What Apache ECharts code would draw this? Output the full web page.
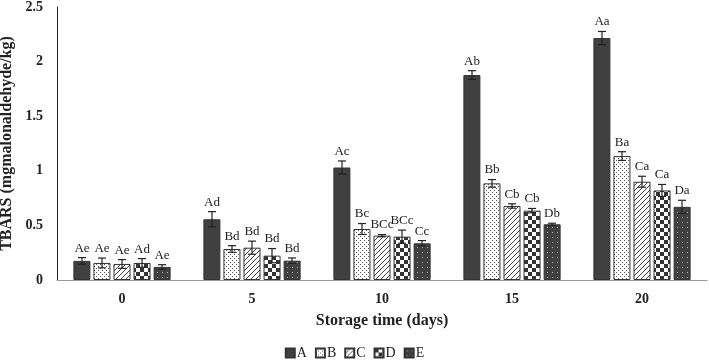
<!DOCTYPE html>
<html>
<head>
<meta charset="utf-8">
<script src="https://cdn.jsdelivr.net/npm/echarts@6/dist/echarts.min.js"></script>
<style>
  html, body { margin: 0; padding: 0; background: #fff; }
  #main { width: 709px; height: 360px; }
</style>
</head>
<body>
<div id="main"></div>
<script>
const days = ['0', '5', '10', '15', '20']
const seriesNames = ['A', 'B', 'C', 'D', 'E']

// mean TBARS values per group
const valA = [0.175, 0.556, 1.03, 1.877, 2.216]
const valB = [0.156, 0.284, 0.467, 0.885, 1.135]
const valC = [0.147, 0.296, 0.406, 0.678, 0.9]
const valD = [0.156, 0.223, 0.397, 0.635, 0.82]
const valE = [0.12, 0.177, 0.336, 0.51, 0.67]

// standard deviations
const errA = [0.03, 0.07, 0.06, 0.04, 0.06]
const errB = [0.045, 0.03, 0.05, 0.035, 0.04]
const errC = [0.04, 0.06, 0.01, 0.02, 0.05]
const errD = [0.04, 0.065, 0.06, 0.02, 0.055]
const errE = [0.02, 0.025, 0.025, 0.01, 0.06]

// significance letters
const lblA = ['Ae', 'Ad', 'Ac', 'Ab', 'Aa']
const lblB = ['Ae', 'Bd', 'Bc', 'Bb', 'Ba']
const lblC = ['Ae', 'Bd', 'BCc', 'Cb', 'Ca']
const lblD = ['Ad', 'Bd', 'BCc', 'Cb', 'Ca']
const lblE = ['Ae', 'Bd', 'Cc', 'Db', 'Da']

const yTicks = ['0', '0.5', '1', '1.5', '2', '2.5']

const allVals = [valA, valB, valC, valD, valE]
const allErrs = [errA, errB, errC, errD, errE]
const allLbls = [lblA, lblB, lblC, lblD, lblE]

const serif = 'Liberation Serif'
const dark = '#404040'
const barW = 17
const pitch = 20

function makePattern(kind) {
  const c = document.createElement('canvas')
  const ctx = c.getContext('2d')
  if (kind === 'dots') {
    c.width = 4; c.height = 4
    ctx.fillStyle = '#fff'; ctx.fillRect(0, 0, 4, 4)
    ctx.fillStyle = '#555'
    ctx.fillRect(0, 0, 1, 1)
    ctx.fillRect(2, 2, 1, 1)
  } else if (kind === 'diag') {
    c.width = 5; c.height = 5
    ctx.fillStyle = '#fff'; ctx.fillRect(0, 0, 5, 5)
    ctx.strokeStyle = '#444'; ctx.lineWidth = 1
    ctx.beginPath()
    ctx.moveTo(-1, 6); ctx.lineTo(6, -1)
    ctx.stroke()
  } else if (kind === 'check') {
    c.width = 8; c.height = 8
    ctx.fillStyle = '#fff'; ctx.fillRect(0, 0, 8, 8)
    ctx.fillStyle = '#333'
    ctx.fillRect(0, 0, 4, 4)
    ctx.fillRect(4, 4, 4, 4)
  } else {
    c.width = 5; c.height = 5
    ctx.fillStyle = dark; ctx.fillRect(0, 0, 5, 5)
    ctx.fillStyle = '#aaa'
    ctx.fillRect(2, 2, 1, 1)
  }
  return { image: c, repeat: 'repeat' }
}

const fills = [dark, makePattern('dots'), makePattern('diag'), makePattern('check'), makePattern('sparse')]

const series = []
seriesNames.forEach((name, i) => {
  series.push({
    name: name,
    type: 'bar',
    barWidth: barW,
    barGap: '18%',
    itemStyle: { color: fills[i], borderColor: '#333', borderWidth: 1 },
    data: allVals[i]
  })
})
seriesNames.forEach((name, i) => {
  series.push({
    name: name + '-err',
    type: 'custom',
    z: 5,
    data: allVals[i].map((v, k) => [k, v, allErrs[i][k]]),
    encode: { x: 0, y: 1 },
    renderItem(params, api) {
      const k = api.value(0)
      const v = api.value(1)
      const e = api.value(2)
      const off = (i - 2) * pitch
      const top = api.coord([k, v + e])
      const bot = api.coord([k, v - e])
      const x = top[0] + off
      const style = { stroke: '#222', lineWidth: 1.2 }
      return {
        type: 'group',
        children: [
          { type: 'line', shape: { x1: x, y1: top[1], x2: x, y2: bot[1] }, style },
          { type: 'line', shape: { x1: x - 4, y1: top[1], x2: x + 4, y2: top[1] }, style },
          { type: 'line', shape: { x1: x - 4, y1: bot[1], x2: x + 4, y2: bot[1] }, style },
          {
            type: 'text',
            x: x, y: top[1] - 3,
            style: {
              text: allLbls[i][params.dataIndex],
              fill: '#222',
              font: '13px "' + serif + '"',
              align: 'center',
              verticalAlign: 'bottom'
            }
          }
        ]
      }
    }
  })
})

const chart = echarts.init(document.getElementById('main'))
chart.setOption({
  animation: false,
  textStyle: { fontFamily: serif },
  grid: { left: 57, right: 2, top: 7, bottom: 80, containLabel: false, outerBoundsMode: 'none' },
  legend: {
    data: seriesNames,
    top: 341,
    left: 'center',
    icon: 'rect',
    itemWidth: 9,
    itemHeight: 9,
    itemGap: 8,
    textStyle: { fontFamily: serif, fontSize: 14, color: '#222', padding: [0, 0, 0, -3] }
  },
  xAxis: {
    type: 'category',
    data: days,
    name: 'Storage time (days)',
    nameLocation: 'middle',
    nameGap: 33,
    nameTextStyle: { fontFamily: serif, fontWeight: 'bold', fontSize: 16, color: '#222' },
    axisLine: { lineStyle: { color: '#999', width: 1 } },
    axisTick: { show: false },
    axisLabel: { fontFamily: serif, fontWeight: 'bold', fontSize: 14, color: '#222', margin: 12 }
  },
  yAxis: {
    type: 'value',
    min: 0,
    max: 2.5,
    interval: 0.5,
    name: 'TBARS (mgmalonaldehyde/kg)',
    nameLocation: 'middle',
    nameGap: 36,
    nameRotate: 90,
    nameTextStyle: { fontFamily: serif, fontWeight: 'bold', fontSize: 16, color: '#222' },
    axisLine: { show: true, lineStyle: { color: '#222', width: 1 } },
    axisTick: { show: false },
    splitLine: { show: false },
    axisLabel: {
      fontFamily: serif, fontWeight: 'bold', fontSize: 14, color: '#222', margin: 14,
      formatter: (v) => yTicks[Math.round(v / 0.5)]
    }
  },
  series: series
})
</script>
</body>
</html>
